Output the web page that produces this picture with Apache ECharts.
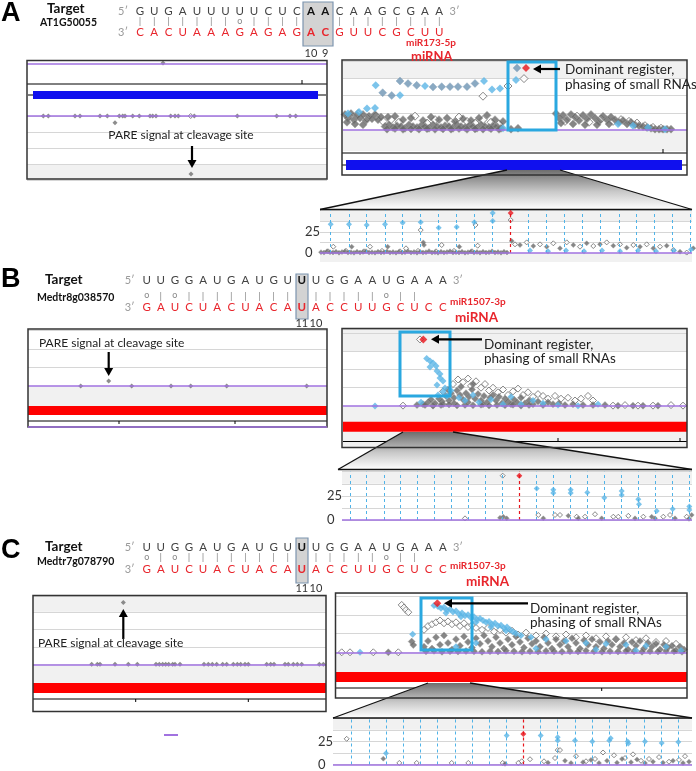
<!DOCTYPE html>
<html><head><meta charset="utf-8">
<script src="https://cdn.jsdelivr.net/npm/echarts/dist/echarts.min.js"></script>
<style>html,body{margin:0;padding:0;background:#fff}#c{width:696px;height:771px}</style>
</head><body><div id="c"></div>
<script>
// ---------------- sequences ----------------
const seqA_target = "GUGAUUUUUCUCAACAAGCGAA";
const seqA_mirna  = "CACUAAAGAGAGACGUUCGCUU";
const pairA       = "|||||||o||||  ||||||||";
const seqB_target = "UUGGAUGAUGUUUGGAAUGAAA";
const seqB_mirna  = "GAUCUACUACAUACCUUGCUCC";
const pairB       = "o|o|||||||| |||||o||  ";
const seqC_target = "UUGGAUGAUGUUUGGAAUGAAA";
const seqC_mirna  = "GAUCUACUACAUACCUUGCUCC";
const pairC       = "o|o|||||||| |||||o||  ";
const posLabelsA = ["10","9"], posIdxA = [12,13];
const posLabelsB = ["11","10"], posIdxB = [11,12];
const posLabelsC = ["11","10"], posIdxC = [11,12];
const zoomTicks = [0,25];

// ---------------- panel A data ----------------
const aTopTrack = [[136,0.17]];
const aPare = [[16.3,0],[21.3,0],[48,0],[53,0],[73,0],[80.3,0],[92.3,0],[95.7,0],[98,0],[105.7,0],[112.3,0],[123,0],[125.7,0],[129,0],[143.7,0],[148,0],[151.3,0],[167.3,0],[210.3,0],[249.7,0],[263,0],[268.7,0],[88,0.42]];
const aPareHollow = [[163.7,0]];
const aCleave = [[164,3.62]];

const aRightFilled = [[2,0.9],[5,0.7],[8,0.95],[11,0.6],[14,0.85],[17,0.7],[20,0.9],[23,0.55],[26,0.8],[29,0.65],[32,0.9],[35,0.6],[38,0.75],[4,0.45],[12,0.35],[20,0.3],
 [42,0.2],[46,0.3],[50,0.15],[54,0.25],[58,0.2],[62,0.1],[66,0.3],[70,0.2],[74,0.15],[78,0.25],[82,0.2],[86,0.1],[90,0.3],[94,0.2],[98,0.15],[102,0.25],[106,0.2],[110,0.1],[114,0.3],[118,0.2],[122,0.15],[126,0.25],[130,0.2],[134,0.1],[138,0.3],[142,0.2],[146,0.15],[150,0.25],[154,0.2],[158,0.1],
 [44,0.05],[52,0.08],[60,0.04],[68,0.06],[76,0.05],[84,0.07],[92,0.04],[100,0.06],[108,0.05],[116,0.08],[124,0.04],[132,0.06],[140,0.05],[148,0.07],[156,0.04],
 [45,0.75],[52,0.8],[60,0.6],[68,0.7],[80,0.55],[88,0.75],[96,0.6],[104,0.7],[112,0.5],[120,0.65],[128,0.55],[136,0.7],[144,0.85],[152,0.6],[160,0.5],
 [168,0.05],[175,0.1],
 [213,0.95],[216,0.7],[220,0.85],[224,0.6],[228,0.9],[232,0.75],[236,0.55],[240,0.85],[244,0.65],[248,0.9],[252,0.7],[256,0.5],[260,0.8],[264,0.6],[268,0.75],[218,0.4],[230,0.35],[242,0.3],[254,0.3],[266,0.35],
 [272,0.6],[276,0.45],[280,0.55],[284,0.35],[288,0.45],[292,0.3],[296,0.25],[300,0.2],[304,0.15],[308,0.1],[312,0.05],[316,0.05],[320,0.05],[324,0.05],[328,0.05]];
const aRightHollow = [[6,0.8],[15,0.95],[24,0.7],[33,0.8],[40,0.5],[48,0.6],[56,0.45],[72,0.8],[84,0.4],[92,0.6],[108,0.45],[116,0.75],[124,0.5],[132,0.4],[140,0.6],[148,0.45],[156,0.35],
 [222,0.5],[234,0.8],[246,0.45],[258,0.65],[270,0.5],[278,0.6],[286,0.5],[294,0.4],[302,0.25],[310,0.15],[318,0.1],
 [140,1.96],[165,2.55],[181,2.98]];
const aRightSteel = [[57,2.84],[65,2.69],[73.7,2.59],[90,2.49],[98.7,2.51],[107,2.51],[115,2.51],[124,2.51],[132,2.7],[39.7,2.16],[48.7,2.0],[174,3.59]];
const aRightBlue = [[32.7,2.59],[82,2.55],[141,2.84],[57,2.02],[149,2.35],[157,2.41],[173,2.9],[16,1.04],[24,1.24],[32,1.27],[5,0.95],[275,0.35],[290,0.25],[305,0.15],[322,0.05],[160,0.1]];
const aRightRed = [[183,3.59]];

const aZoomPhase = [10.7,29,46.7,65,82.7,100.7,118.7,136.7,154.3,172.7,208.7,226.7,244.7,262.7,280.7,299,316.7,334.7,352.3,370];
const aZoomCleave = 190.7;
const aZoomBlue = [[10.7,33.8],[29,33.8],[46.7,33],[65,33.8],[82.7,35.7],[100.7,36.1],[118.7,29.8],[136.7,30.6],[154.3,36.1],[172.7,47.1],[172.7,37.6],
 [210,3],[228,2],[246,3],[264,2],[282,3],[300,2],[318,3],[336,2],[354,3],[371,4]];
const aZoomRed = [[190.7,47.1]];
const aZoomHollow = [[190.7,38.8],[100.7,27],[155.5,33],[13.3,7.4],[50,7.4],[86,5.5],[121.7,9.4],[157.7,8.6],
 [195,10.2],[206.7,12.5],[220,10.2],[233.3,11.4],[246.7,12.5],[260,7.4],[273.3,8.2],[286.7,12.5],[300,10.2],[313.3,9.4],[326.7,10.2],[340,7.4],[353.3,3.5],[366.7,0.5],
 [8,2],[26,2.5],[44,2],[62,2.5],[80,2],[98,2.5],[116,2],[134,2.5],[152,2]];
const aZoomFilled = [[31.7,7.4],[67.7,7.4],[103.3,12.5],[104,9.4],[139.3,7.4],
 [191.7,14.1],[200,9.4],[213.3,8.2],[226.7,7.4],[240,5.5],[253.3,9.4],[266.7,11.4],[280,10.2],[293.3,8.6],[306.7,6.3],[320,7.4],[333.3,5.5],[346.7,8.6],[360,1.6],[373.3,5.5],
 [1,1],[4,0.5],[7,2],[10,1],[13,0.6],[16,1.5],[19,0.4],[22,1.1],[25,2],[28,0.5],[31,1],[34,0.3],[37,1.6],[40,0.5],[43,1.2],[46,2.1],[49,0.5],[52,1],[55,0.4],[58,1.5],[61,0.6],[64,1],[67,1.9],[70,0.5],[73,1.1],[76,0.4],[79,1.5],[82,0.5],[85,1],[88,2],[91,0.6],[94,1.2],[97,0.4],[100,1.5],[103,0.5],[106,1],[109,2.2],[112,0.5],[115,1],[118,0.3],[121,1.4],[124,0.5],[127,1.1],[130,2],[133,0.5],[136,1],[139,0.6],[142,1.5],[145,0.4],[148,1],[151,1.9],[154,0.5],[157,1.2],[160,0.4],[163,1.5],[166,0.5],[169,1],[172,2],[175,0.5],[178,1.1],[181,0.4],[184,1.5],[187,0.6]];

// ---------------- panel B data ----------------
const bPare = [[52.7,0],[103.7,0],[143,0],[162.7,0],[198.7,0],[278.7,0]];
const bCleave = [[80.7,0.27]];
const bRightRed = [[80.3,3.64]];
const bRightBlue = [[83.7,2.6],[87,2.46],[90,2.35],[93,2.19],[87,2.13],[94,1.91],[97,1.75],[97,1.53],[100,1.37],[94,1.15],[102,0.98],[100,0.77],[104,0.55],[32,0],
 [78,0.2],[95,0.6],[108,0.85],[116,0.45],[122,0.3],[130,0.6],[136,0.2],[148,0.35],[160,0.1],[168,0.5],[178,0.1],[190,0.3],[200,0.15],[215,0.05],[235,0.02],[255,0.1]];
const bRightFilled = [[74,0.05],[80,0.1],[85,0.2],[88,0.35],[92,0.15],[96,0.4],[99,0.25],[103,0.55],[106,0.3],[108,0.7],[111,0.45],[114,0.85],[117,0.6],[120,0.35],[123,0.7],[126,0.5],[129,0.9],[132,0.4],[135,0.65],[138,0.3],[141,0.55],[144,0.2],[147,0.45],[150,0.6],[153,0.3],[156,0.5],[159,0.15],[162,0.4],[165,0.25],[168,0.1],[171,0.35],[174,0.2],[178,0.45],[182,0.15],[186,0.3],[190,0.1],[195,0.25],[200,0.05],[205,0.2],[210,0.1],[216,0.15],[222,0.05],[230,0.1],[240,0.05],[250,0.05],[262,0.05],[275,0.02],[290,0.02],[300,0.02],[315,0.02],[111,0.15],[100,0.1],[125,0.2],[140,0.1],[105,0.9],[118,1.05],[130,1.2],
 [82,0.05],[90,0.02],[98,0.05],[106,0.08],[114,0.03],[122,0.06],[130,0.04],[138,0.07],[146,0.03],[154,0.06],[162,0.04],[170,0.07],[178,0.02],[186,0.05]];
const bRightHollow = [[77,3.64],[100,0.8],[110,1.2],[115,1.45],[120,1.3],[125,1.5],[128,1.1],[133,1.35],[138,1.0],[142,1.2],[146,0.85],[150,1.0],[155,0.75],[160,0.9],[165,0.6],[170,0.8],[175,0.95],[180,0.6],[185,0.75],[190,0.5],[195,0.65],[200,0.55],[205,0.4],[212,0.55],[218,0.4],[225,0.45],[232,0.3],[238,0.4],[245,0.55],[250,0.3],[60,0.02],[90,0.05],[270,0.02],[282,0.05],[295,0.02],[310,0.02],[328,0.05],[340,0.02]];

const bZoomPhase = [8,24.7,42,58.7,75.3,92.3,109.7,126.3,143.7,160.7,194.7,211.3,228.7,245.3,262.3,279.7,296.3,313.7,330.3,347.3];
const bZoomCleave = 177.3;
const bZoomRed = [[177.3,45.9]];
const bZoomBlue = [[194.7,32.6],[211.3,31.4],[211.3,27.9],[228.7,31.4],[228.7,27.9],[245.3,28.5],[262.3,23],[279.7,30],[279.7,26],[296.3,21.4],[297,16.2],[314.7,9.4],[330.7,11.5],[347.3,13.9],[347.3,10.4]];
const bZoomHollow = [[160.7,45.9],[123,1.7],[196.3,5.2],[213,5.2],[218,5.2],[234.7,3.4],[243,3.4],[253,6],[271.3,3.4],[286.3,4.3],[301.3,3.4],[321.3,3.4],[328,5.2],[344.7,3.4],[276.3,3.4]];
const bZoomFilled = [[158,2.2],[161.3,3.4],[164.7,1.7],[201.3,1.7],[226.3,4.3],[236.3,1.7],[259.7,1.7],[293,1.7],[309.7,3.4],[313,1.7],[333,1.7],[349.7,5.2],[347,1.2]];

// ---------------- panel C data ----------------
const cPare = [[58.7,0],[64.3,0],[67,0],[82,0],[95.3,0],[104.3,0],[123,0],[126.3,0],[129.7,0],[132.7,0],[135.7,0],[139.7,0],[142,0],[147,0],[171,0],[175.3,0],[179.3,0],[183.7,0],[189.7,0],[193.7,0],[200.3,0],[204.3,0],[207.7,0],[212,0],[215.3,0],[233.7,0],[237.7,0],[241,0],[252,0],[255.3,0],[260.3,0],[264.3,0],[268.7,0],[286.3,0],[290.3,0]];
const cCleave = [[90.3,3.53]];
const cRightRed = [[101.3,2.62]];
const cRightBlue = [[24,0],[76.7,0.96],
 [98,2.5],[102,2.45],[105,2.35],[108,2.4],[111,2.25],[114,2.3],[117,2.15],[120,2.2],[123,2.05],[126,2.1],[129,1.95],[132,2.0],[135,1.85],[138,1.9],[141,1.75],[144,1.8],[147,1.7],[150,1.6],[153,1.65],[156,1.5],[159,1.55],[162,1.4],[165,1.45],[168,1.3],[171,1.35],[174,1.2],[177,1.1],[180,1.0],[110,2.1],[125,1.9],[140,1.6],[155,1.35],[170,1.15],[185,0.9],[195,0.8],[210,0.7],[230,0.6],[250,0.5],[270,0.45],[290,0.4],[310,0.35],[330,0.3],[345,0.1],
 [120,0.3],[140,0.5],[200,0.2],[260,0.15],[300,0.1]];
const cRightHollow = [[65.7,2.53],[68,2.39],[70,2.26],[72.3,2.14],[5.7,0],[14,0],[37.3,0],[62.3,0],
 [88,1.2],[92,1.4],[96,1.5],[100,1.6],[104,1.7],[108,1.55],[112,1.65],[116,1.5],[120,1.6],[124,1.4],[128,1.55],[132,1.35],[136,1.45],[140,1.3],[146,1.2],[152,1.3],[158,1.1],[164,1.2],[170,1.05],[176,1.15],[182,0.95],[190,1.05],[200,0.9],[210,1.0],[220,0.85],[230,0.95],[240,0.8],[250,0.9],[260,0.75],[270,0.85],[280,0.7],[290,0.8],[300,0.65],[310,0.75],[320,0.55],[330,0.6],[340,0.45]];
const cRightFilled = [[52.3,0],[75.7,0.57],[77.3,0.39],
 [88,0.3],[92,0.6],[96,0.2],[100,0.8],[104,0.4],[108,0.9],[112,0.5],[116,0.15],[120,0.7],[124,0.35],[128,0.85],[132,0.55],[136,0.25],[140,0.75],[144,0.45],[148,0.9],[152,0.6],[156,0.3],[160,0.8],[164,0.5],[168,0.2],[172,0.7],[176,0.4],[180,0.85],[184,0.55],[188,0.25],[192,0.75],[196,0.45],[200,0.6],[204,0.3],[208,0.8],[212,0.5],[216,0.2],[220,0.7],[224,0.4],[228,0.6],[232,0.3],[236,0.75],[240,0.5],[244,0.2],[248,0.65],[252,0.4],[256,0.7],[260,0.3],[264,0.55],[268,0.2],[272,0.6],[276,0.4],[280,0.7],[284,0.3],[288,0.5],[292,0.15],[296,0.55],[300,0.35],[304,0.6],[308,0.2],[312,0.5],[316,0.3],[320,0.45],[324,0.15],[328,0.4],[332,0.25],[336,0.35],[340,0.1],[344,0.3],[348,0.15],
 [90,0.05],[98,0.08],[106,0.03],[114,0.06],[122,0.04],[130,0.07],[138,0.05],[146,0.03],[154,0.06],[162,0.04],[170,0.08],[178,0.05],[186,0.03],[194,0.06],[202,0.04],[210,0.07],[218,0.05],[226,0.03],[234,0.06],[242,0.04],[250,0.08],[258,0.05],[266,0.03],[274,0.06],[282,0.04],[290,0.07],[298,0.05],[306,0.03],[314,0.06],[322,0.04],[330,0.07],[338,0.05],[346,0.03]];

const cZoomPhase = [18.7,36,53,70.3,87.7,104.7,122,139,156,173.7,207.7,224.7,242,259.3,276.3,293.7,311,328,345.3];
const cZoomCleave = 190.3;
const cZoomRed = [[190.3,33]];
const cZoomBlue = [[53,12.2],[173.7,31.3],[207.7,31.3],[224.7,26],[224.7,29.5],[242,26],[259.3,25],[276.3,26],[277.7,28.5],[294.7,25],[295.3,22.6],[312,25],[328.7,23.3],[345.3,24.3]];
const cZoomHollow = [[13.7,27.8],[66.3,1.7],[83.7,1.7],[118.7,1.7],[135.3,1.7],[169.7,1.7],[185.3,1.7],[188.7,3.5],[224.7,15.6],[227,15.6],[197,5.7],[211,3.5],[222,7],[243,9],[253,3.5],[262,6],[270,13],[281,10],[292,7],[300,11],[308,4],[316,6],[326,8],[336,3],[346,5],[352,9]];
const cZoomFilled = [[50.3,6.3],[172,0.7],[215,2],[232,4],[238,1.5],[250,2.5],[258,5],[266,1.5],[274,4],[284,2],[289,6],[298,2.5],[304,5.5],[312,1.5],[320,3],[330,2],[340,4],[350,1.5],[356,3]];

// ---------------- styles ----------------
const C_FILL = '#686868', C_BLUE = '#5bb5e6', C_STEEL = '#6d93b3', C_RED = '#e8141c', C_PURPLE = '#a172e0', C_SEQRED = '#e8262d';
const FONT = 'Lato, "Open Sans", sans-serif';

const grids = [
  {left:27, top:58, width:300, height:6},
  {left:27, top:116, width:300, height:64},
  {left:343, top:61, width:344, height:69},
  {left:320, top:210.5, width:372, height:42.5},
  {left:28, top:330.5, width:299, height:55.5},
  {left:343, top:329, width:344, height:77},
  {left:342, top:471.7, width:350, height:48.3},
  {left:33, top:596, width:293, height:68.3},
  {left:336, top:593.3, width:351, height:59},
  {left:333, top:718.3, width:359, height:48.4}
];
const NONE = 'rgba(0,0,0,0)', BAND = '#f1f1f1';
const yCfg = [
  {max:1, interval:1, bands:[NONE], split:false},
  {max:4, interval:1, bands:[NONE,NONE,NONE,BAND], inverse:true},
  {max:4, interval:1, bands:[NONE,NONE,NONE,BAND]},
  {max:50, interval:12.5, bands:[NONE,NONE,NONE,BAND], labels:true},
  {max:3, interval:1, bands:[NONE,NONE,NONE]},
  {max:4.21, interval:1, bands:[NONE,NONE,NONE,BAND,BAND]},
  {max:50, interval:12.5, bands:[NONE,NONE,NONE,BAND], labels:true},
  {max:3.9, interval:1, bands:[NONE,NONE,NONE,BAND]},
  {max:3.15, interval:1, bands:[NONE,NONE,NONE,NONE]},
  {max:50, interval:12.5, bands:[NONE,NONE,NONE,BAND], labels:true}
];
const xAxis = grids.map((g,i)=>({gridIndex:i, type:'value', min:0, max:g.width, show:false}));
const yAxis = yCfg.map((c,i)=>({
  gridIndex:i, type:'value', min:0, max:c.max, interval:c.interval, inverse:!!c.inverse,
  axisLine:{show:false}, axisTick:{show:false},
  axisLabel:{show:!!c.labels, align:'left', margin:15, fontSize:13, color:'#333', fontFamily:FONT,
    formatter:v=> zoomTicks.indexOf(v)>=0 ? String(v) : ''},
  splitLine:{show:c.split!==false, lineStyle:{color:'#d6d6d6', width:1}},
  splitArea:{show:true, areaStyle:{color:c.bands}}
}));

function purpleLine(){ return {silent:true, symbol:'none', label:{show:false}, animation:false,
  lineStyle:{color:C_PURPLE, width:1.5, type:'solid'}, data:[{yAxis:0}]}; }
function phaseLines(arr, red){
  const d = arr.map(v=>({xAxis:v, lineStyle:{color:'#4fb3e8', type:[3,3], width:1}}));
  d.push({xAxis:red, lineStyle:{color:C_RED, type:[3,3], width:1.2}});
  d.push({yAxis:0, lineStyle:{color:C_PURPLE, type:'solid', width:1.5}});
  return {silent:true, symbol:'none', label:{show:false}, animation:false, data:d};
}
function sc(gi, data, kind, size, extra){
  const st = {
    fill:{color:C_FILL, borderColor:'#9a9a9a', borderWidth:0.6},
    hollow:{color:'#ffffff', borderColor:'#6a6a6a', borderWidth:1},
    blue:{color:C_BLUE, borderColor:C_BLUE, borderWidth:0},
    steel:{color:C_STEEL, borderColor:'#8aa5bb', borderWidth:0.5},
    red:{color:C_RED, borderWidth:0},
    pare:{color:'#707070', borderWidth:0}
  }[kind];
  return Object.assign({type:'scatter', xAxisIndex:gi, yAxisIndex:gi, data, symbol:'diamond', symbolSize:size,
    itemStyle:st, clip:false, silent:true, animation:false}, extra||{});
}

const series = [
  sc(0, aTopTrack, 'pare', 5, {markLine:purpleLine()}),
  sc(1, aPare, 'pare', 5, {markLine:purpleLine()}),
  sc(1, aPareHollow, 'hollow', 5),
  sc(1, aCleave, 'pare', 5),
  sc(2, aRightHollow, 'hollow', 8, {markLine:purpleLine()}),
  sc(2, aRightFilled, 'fill', 8),
  sc(2, aRightSteel, 'steel', 8),
  sc(2, aRightBlue, 'blue', 8),
  sc(2, aRightRed, 'red', 8),
  sc(3, aZoomHollow, 'hollow', 5, {markLine:phaseLines(aZoomPhase, aZoomCleave)}),
  sc(3, aZoomFilled, 'fill', 5),
  sc(3, aZoomBlue, 'blue', 6),
  sc(3, aZoomRed, 'red', 6),
  sc(4, bPare, 'pare', 5, {markLine:purpleLine()}),
  sc(4, bCleave, 'pare', 5),
  sc(5, bRightHollow, 'hollow', 7, {markLine:purpleLine()}),
  sc(5, bRightFilled, 'fill', 7),
  sc(5, bRightBlue, 'blue', 7),
  sc(5, bRightRed, 'red', 8),
  sc(6, bZoomHollow, 'hollow', 5, {markLine:phaseLines(bZoomPhase, bZoomCleave)}),
  sc(6, bZoomFilled, 'fill', 5),
  sc(6, bZoomBlue, 'blue', 6),
  sc(6, bZoomRed, 'red', 6),
  sc(7, cPare, 'pare', 5, {markLine:purpleLine()}),
  sc(7, cCleave, 'pare', 5),
  sc(8, cRightHollow, 'hollow', 7, {markLine:purpleLine()}),
  sc(8, cRightFilled, 'fill', 7),
  sc(8, cRightBlue, 'blue', 7),
  sc(8, cRightRed, 'red', 8),
  sc(9, cZoomHollow, 'hollow', 5, {markLine:phaseLines(cZoomPhase, cZoomCleave)}),
  sc(9, cZoomFilled, 'fill', 5),
  sc(9, cZoomBlue, 'blue', 6),
  sc(9, cZoomRed, 'red', 6)
];

// ---------------- graphic annotations ----------------
const G = [];
function T(x,y,text,o){ G.push({type:'text', x, y, z:50, silent:true, style:Object.assign({text, fill:'#222', fontSize:12, fontFamily:FONT, align:'left', verticalAlign:'middle'}, o||{})}); }
function R(x,y,w,h,fill,stroke,lw,z){ G.push({type:'rect', z:z||1, silent:true, shape:{x,y,width:w,height:h}, style:{fill:fill||'none', stroke:stroke||null, lineWidth:lw||1}}); }
function L(x1,y1,x2,y2,c,w,z){ G.push({type:'line', z:z||3, silent:true, shape:{x1,y1,x2,y2}, style:{stroke:c||'#000', lineWidth:w||1}}); }
function arrow(x1,y1,x2,y2){
  const a=Math.atan2(y2-y1,x2-x1), Ln=8, W=4.5;
  const bx=x2-Ln*Math.cos(a), by=y2-Ln*Math.sin(a), px=-Math.sin(a)*W, py=Math.cos(a)*W;
  L(x1,y1,bx,by,'#000',2.2,40);
  G.push({type:'polygon', z:40, silent:true, shape:{points:[[x2,y2],[bx+px,by+py],[bx-px,by-py]]}, style:{fill:'#000'}});
}
function trap(tl,tr,y1,bl,br,y2){
  G.push({type:'polygon', z:4, silent:true, shape:{points:[[tl,y1],[tr,y1],[br,y2],[bl,y2]]},
    style:{fill:{type:'linear', x:0, y:0, x2:0, y2:1, colorStops:[{offset:0,color:'#6e6e6e'},{offset:0.55,color:'#c9c9c9'},{offset:1,color:'#ffffff'}]}}});
  L(tl,y1,bl,y2,'#111',1.3,5); L(tr,y1,br,y2,'#111',1.3,5);
}
function seqBlock(y1,y2,y3,x0,dx,tgt,mir,pair,hi,labels,lblIdx,ly,hx,hy,hw,hh){
  R(hx,hy,hw,hh,'#d3d3d3','#7d95b0',1.2,20);
  T(x0-22,y1,'5\u2032',{fill:'#9a9a9a',fontSize:11});
  T(x0-22,y3,'3\u2032',{fill:'#9a9a9a',fontSize:11});
  T(x0+tgt.length*dx-4,y1,'3\u2032',{fill:'#9a9a9a',fontSize:11});
  for(let i=0;i<tgt.length;i++){
    const b = hi.indexOf(i)>=0;
    T(x0+i*dx,y1,tgt[i],{align:'center',fontSize:11.5,fill:b?'#111':'#444',fontWeight:b?'bold':'normal'});
    T(x0+i*dx,y3,mir[i],{align:'center',fontSize:11.5,fill:C_SEQRED,fontWeight:b?'bold':'normal'});
    if(pair[i]==='|') T(x0+i*dx,y2,'|',{align:'center',fontSize:10,fill:'#888'});
    if(pair[i]==='o') T(x0+i*dx,y2,'o',{align:'center',fontSize:9,fill:'#888'});
  }
  labels.forEach((s,k)=>T(x0+lblIdx[k]*dx,ly,s,{align:'center',fontSize:11,fill:'#333'}));
}
function panelLetter(x,y,s){ T(x,y,s,{fontSize:27,fontWeight:'bold',fontFamily:'"Liberation Sans", Arial, sans-serif',fill:'#000'}); }

// ===== Panel A =====
panelLetter(1,14,'A');
T(47,9,'Target',{fontSize:13.5,fontWeight:'bold',fill:'#111'});
T(40,23,'AT1G50055',{fontSize:10.5,fontWeight:'bold',fill:'#111'});
seqBlock(11,21,32,140,14.25,seqA_target,seqA_mirna,pairA,[12,13],posLabelsA,posIdxA,53,303,2,30,44);
T(406,43,'miR173-5p',{fontSize:10,fontWeight:'bold',fill:C_SEQRED});
T(411,57,'miRNA',{fontSize:13,fontWeight:'bold',fill:C_SEQRED});
L(27,84,327,84,'#000',1); L(302,84,302,80,'#000',1);
L(28,95,326,95,'#000',1);
R(33,91,285,8,'#1010ee',null,0,3);
T(181,135,'PARE signal at cleavage site',{align:'center',fontSize:12,fill:'#222'});
arrow(192,146,192,168);
R(27,60.5,300,118.5,'none','#333',1.5,30);
R(343,130,344,21,'#f1f1f1',null,0,0);
L(342,153,687,153,'#000',1); L(663,153,663,149,'#000',1);
L(342,165,687,165,'#000',1);
R(346,160,336,10,'#1010ee',null,0,3);
R(342,60,345,115,'none','#333',1.5,30);
R(508,62,48,68,'none','#2aa8e0',3,35);
arrow(560,69,533,69);
T(565,70,'Dominant register,',{fontSize:13.5});
T(565,85,'phasing of small RNAs',{fontSize:13.5});
trap(507,560,170,320,692,209.5);
L(320,209.5,692,209.5,'#111',1.3,5);
R(320,253,372,9,'#f1f1f1',null,0,0);

// ===== Panel B =====
panelLetter(1,280,'B');
T(45,280,'Target',{fontSize:13.5,fontWeight:'bold',fill:'#111'});
T(37,298,'Medtr8g038570',{fontSize:10.5,fontWeight:'bold',fill:'#111'});
seqBlock(280,295.5,307.5,146.7,14.1,seqB_target,seqB_mirna,pairB,[11],posLabelsB,posIdxB,323,296,274,12,45);
T(450,302,'miR1507-3p',{fontSize:10,fontWeight:'bold',fill:C_SEQRED});
T(455,318,'miRNA',{fontSize:13.5,fontWeight:'bold',fill:C_SEQRED});
R(28,386,299,20,'#f1f1f1',null,0,0);
R(28,406,299,9,'#ff0000',null,0,3);
L(28,421,327,421,'#000',1); L(119,421,119,424,'#000',1); L(235,421,235,424,'#000',1);
T(39,343,'PARE signal at cleavage site',{fontSize:12,fill:'#222'});
arrow(108.7,352,108.7,376);
R(28,329,299,98,'none','#333',1.5,30);
L(28,427,327,427,C_PURPLE,1.5,31);
R(343,406,344,41,'#f1f1f1',null,0,0);
R(343,421.7,344,10,'#ff0000',null,0,3);
L(343,441.5,687,441.5,'#000',1); L(558,441.5,558,438,'#000',1); L(680,441.5,680,438,'#000',1);
R(342,328.5,345,119,'none','#333',1.5,30);
R(400,332,50,64,'none','#2aa8e0',3,35);
arrow(482,339.3,431,339.3);
T(484,345,'Dominant register,',{fontSize:13.5});
T(484,359,'phasing of small RNAs',{fontSize:13.5});
trap(403,453,432,338,692,469.5);
L(338,469.5,692,469.5,'#111',1.3,5);

// ===== Panel C =====
panelLetter(1,551,'C');
T(45,547,'Target',{fontSize:13.5,fontWeight:'bold',fill:'#111'});
T(37,562,'Medtr7g078790',{fontSize:10.5,fontWeight:'bold',fill:'#111'});
seqBlock(547.5,557,569,146.7,14.1,seqC_target,seqC_mirna,pairC,[11],posLabelsC,posIdxC,588,296,538,12,45);
T(450,566,'miR1507-3p',{fontSize:10,fontWeight:'bold',fill:C_SEQRED});
T(466,582,'miRNA',{fontSize:13.5,fontWeight:'bold',fill:C_SEQRED});
R(33,664.3,293,19,'#f1f1f1',null,0,0);
R(33,683,293,10,'#ff0000',null,0,3);
L(33,699,326,699,'#000',1); L(135.7,699,135.7,702,'#000',1); L(248.3,699,248.3,702,'#000',1);
T(38,643,'PARE signal at cleavage site',{fontSize:12,fill:'#222'});
arrow(123.3,639,123.3,609);
R(33,595.5,293,116,'none','#333',1.5,30);
L(164,735,178,735,C_PURPLE,2,31);
R(336,652.3,351,20,'#f1f1f1',null,0,0);
R(336,672,351,10,'#ff0000',null,0,3);
L(336,688,687,688,'#000',1); L(601.7,688,601.7,691,'#000',1);
R(335.5,593,351.5,105,'none','#333',1.5,30);
R(421,598,51,52,'none','#2aa8e0',3,35);
arrow(528,603.3,444,603.3);
T(530,609,'Dominant register,',{fontSize:13.5});
T(530,623,'phasing of small RNAs',{fontSize:13.5});
trap(428,470,683,333,692,718);
L(333,718,692,718,'#111',1.3,5);

const chart = echarts.init(document.getElementById('c'), null, {renderer:'canvas', width:696, height:771});
chart.setOption({animation:false, backgroundColor:'#ffffff', grid:grids, xAxis, yAxis, series, graphic:{elements:G}});
</script></body></html>
